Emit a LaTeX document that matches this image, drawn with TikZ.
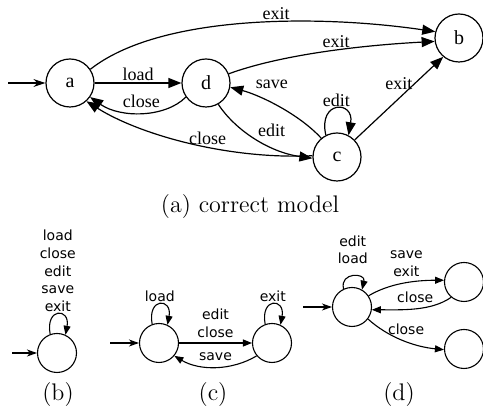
\documentclass[tikz,border=0pt]{standalone}
\usepackage{fontspec}
\newfontfamily\serifface{Liberation Serif}
\newfontfamily\sansface{DejaVu Sans}
\usetikzlibrary{arrows.meta}

\begin{document}
\begin{tikzpicture}[x=0.5pt, y=-0.5pt,
  state/.style={circle, draw, line width=0.6pt, minimum size=24pt, inner sep=0pt,
    font=\serifface\fontsize{10}{12}\selectfont},
  tiny/.style={circle, draw, line width=0.55pt, minimum size=19.5pt, inner sep=0pt},
  lbl/.style={font=\serifface\fontsize{9}{10}\selectfont, inner sep=1pt},
  slbl/.style={font=\sansface\fontsize{7}{8.85}\selectfont, inner sep=1pt, align=center},
  subcap/.style={font=\fontsize{12}{14}\selectfont, anchor=base},
  arr/.style={-{Triangle[length=6.5pt,width=5pt]}, line width=0.6pt},
  sarr/.style={-{Triangle[length=4.5pt,width=3.5pt]}, line width=0.55pt},
  init/.style={-{Stealth[length=6pt,width=4pt,inset=2pt]}, line width=0.6pt},
  sinit/.style={-{Stealth[length=5pt,width=3.5pt,inset=1.5pt]}, line width=0.55pt}
]
  \useasboundingbox (0,0) rectangle (483,410);

  % (a) correct model
  \node[state] (a) at (70,83) {a};
  \node[state] (d) at (206,83) {d};
  \node[state] (b) at (459,38) {b};
  \node[state] (c) at (337,157) {c};
  \coordinate (ina) at (8,83);
  \draw[init] (ina) -- (a);
  \draw[arr] (a) -- node[lbl, above] (lload) {load} (d);
  \draw[arr] (a.34) .. controls +(70,-55) and +(-116,-17) .. node[lbl, above, pos=0.58] (lexitab) {exit} (b.165);
  \draw[arr] (d.22) .. controls +(52,-19) and +(-75,4) .. node[lbl, above, pos=0.56] (lexitdb) {exit} (b.188);
  \draw[arr] (d.215) .. controls +(-21,21) and +(30,21) .. node[lbl, above=1.5pt] (lclosed) {close} (a.-35);
  \draw[arr] (c.177) .. controls +(-83,4) and +(54,34) .. node[lbl, above, pos=0.42] (lclosec) {close} (a.-48);
  \draw[arr] (c.130) .. controls +(-22,-24) and +(30,8) .. node[lbl, above=5pt, pos=0.6, xshift=1.5pt] (lsave) {save} (d.-10);
  \draw[arr] (d.-60) .. controls +(17,26) and +(-43,-6) .. node[lbl, above=3pt, pos=0.62, xshift=2pt] (leditdc) {edit} (c.183);
  \draw[arr] (c.117) .. controls +(-8,-35) and +(6,-35) .. node[lbl, above] (leditc) {edit} (c.62);
  \draw[arr] (c.44) -- node[lbl, left, pos=0.68] (lexitcb) {exit} (b.230);
  \node[subcap] (capa) at (250,213) {(a) correct model};

  % (b)
  \node[tiny] (b0) at (57,353) {};
  \coordinate (inb) at (12,353);
  \draw[sinit] (inb) -- (b0);
  \draw[sarr] (b0.110) .. controls +(-5,-27) and +(5,-27) .. node[slbl, above] (lallb) {load\\close\\edit\\save\\exit} (b0.65);
  \node[subcap] (capb) at (58,401) {(b)};

  % (c)
  \node[tiny] (c0) at (159,343) {};
  \node[tiny] (c1) at (272,343) {};
  \coordinate (inc) at (110,343);
  \draw[sinit] (inc) -- (c0);
  \draw[sarr] (c0.110) .. controls +(-5,-27) and +(5,-27) .. node[slbl, above] (lloadc) {load} (c0.65);
  \draw[sarr] (c1.110) .. controls +(-5,-27) and +(5,-27) .. node[slbl, above] (lexitc) {exit} (c1.65);
  \draw[sarr] (c0) -- node[slbl, above=1.5pt] (leditc0) {edit\\close} (c1);
  \draw[sarr] (c1.-140) .. controls +(-25,15) and +(25,15) .. node[slbl, above=2pt] (lsavec) {save} (c0.-40);
  \node[subcap] (capc) at (213,401) {(c)};

  % (d)
  \node[tiny] (d0) at (352,307) {};
  \node[tiny] (d1) at (464,282) {};
  \node[tiny] (d2) at (464,349) {};
  \coordinate (ind) at (303,307);
  \draw[sinit] (ind) -- (d0);
  \draw[sarr] (d0.115) .. controls +(-4,-17) and +(4,-17) .. node[slbl, above=5pt] (lloadd) {edit\\load} (d0.60);
  \draw[sarr] (d0.34) .. controls +(20,-12) and +(-30,0) .. node[slbl, above=2pt, pos=0.55] (lsaved) {save\\exit} (d1.175);
  \draw[sarr] (d1.-130) .. controls +(-20,14) and +(30,0) .. node[slbl, above=2pt] (lclosed1) {close} (d0.-8);
  \draw[sarr] (d0.-37) .. controls +(20,18) and +(-30,-3) .. node[slbl, above=2pt, pos=0.55] (lclosed2) {close} (d2.182);
  \node[subcap] (capd) at (399,401) {(d)};
\end{tikzpicture}
\end{document}
